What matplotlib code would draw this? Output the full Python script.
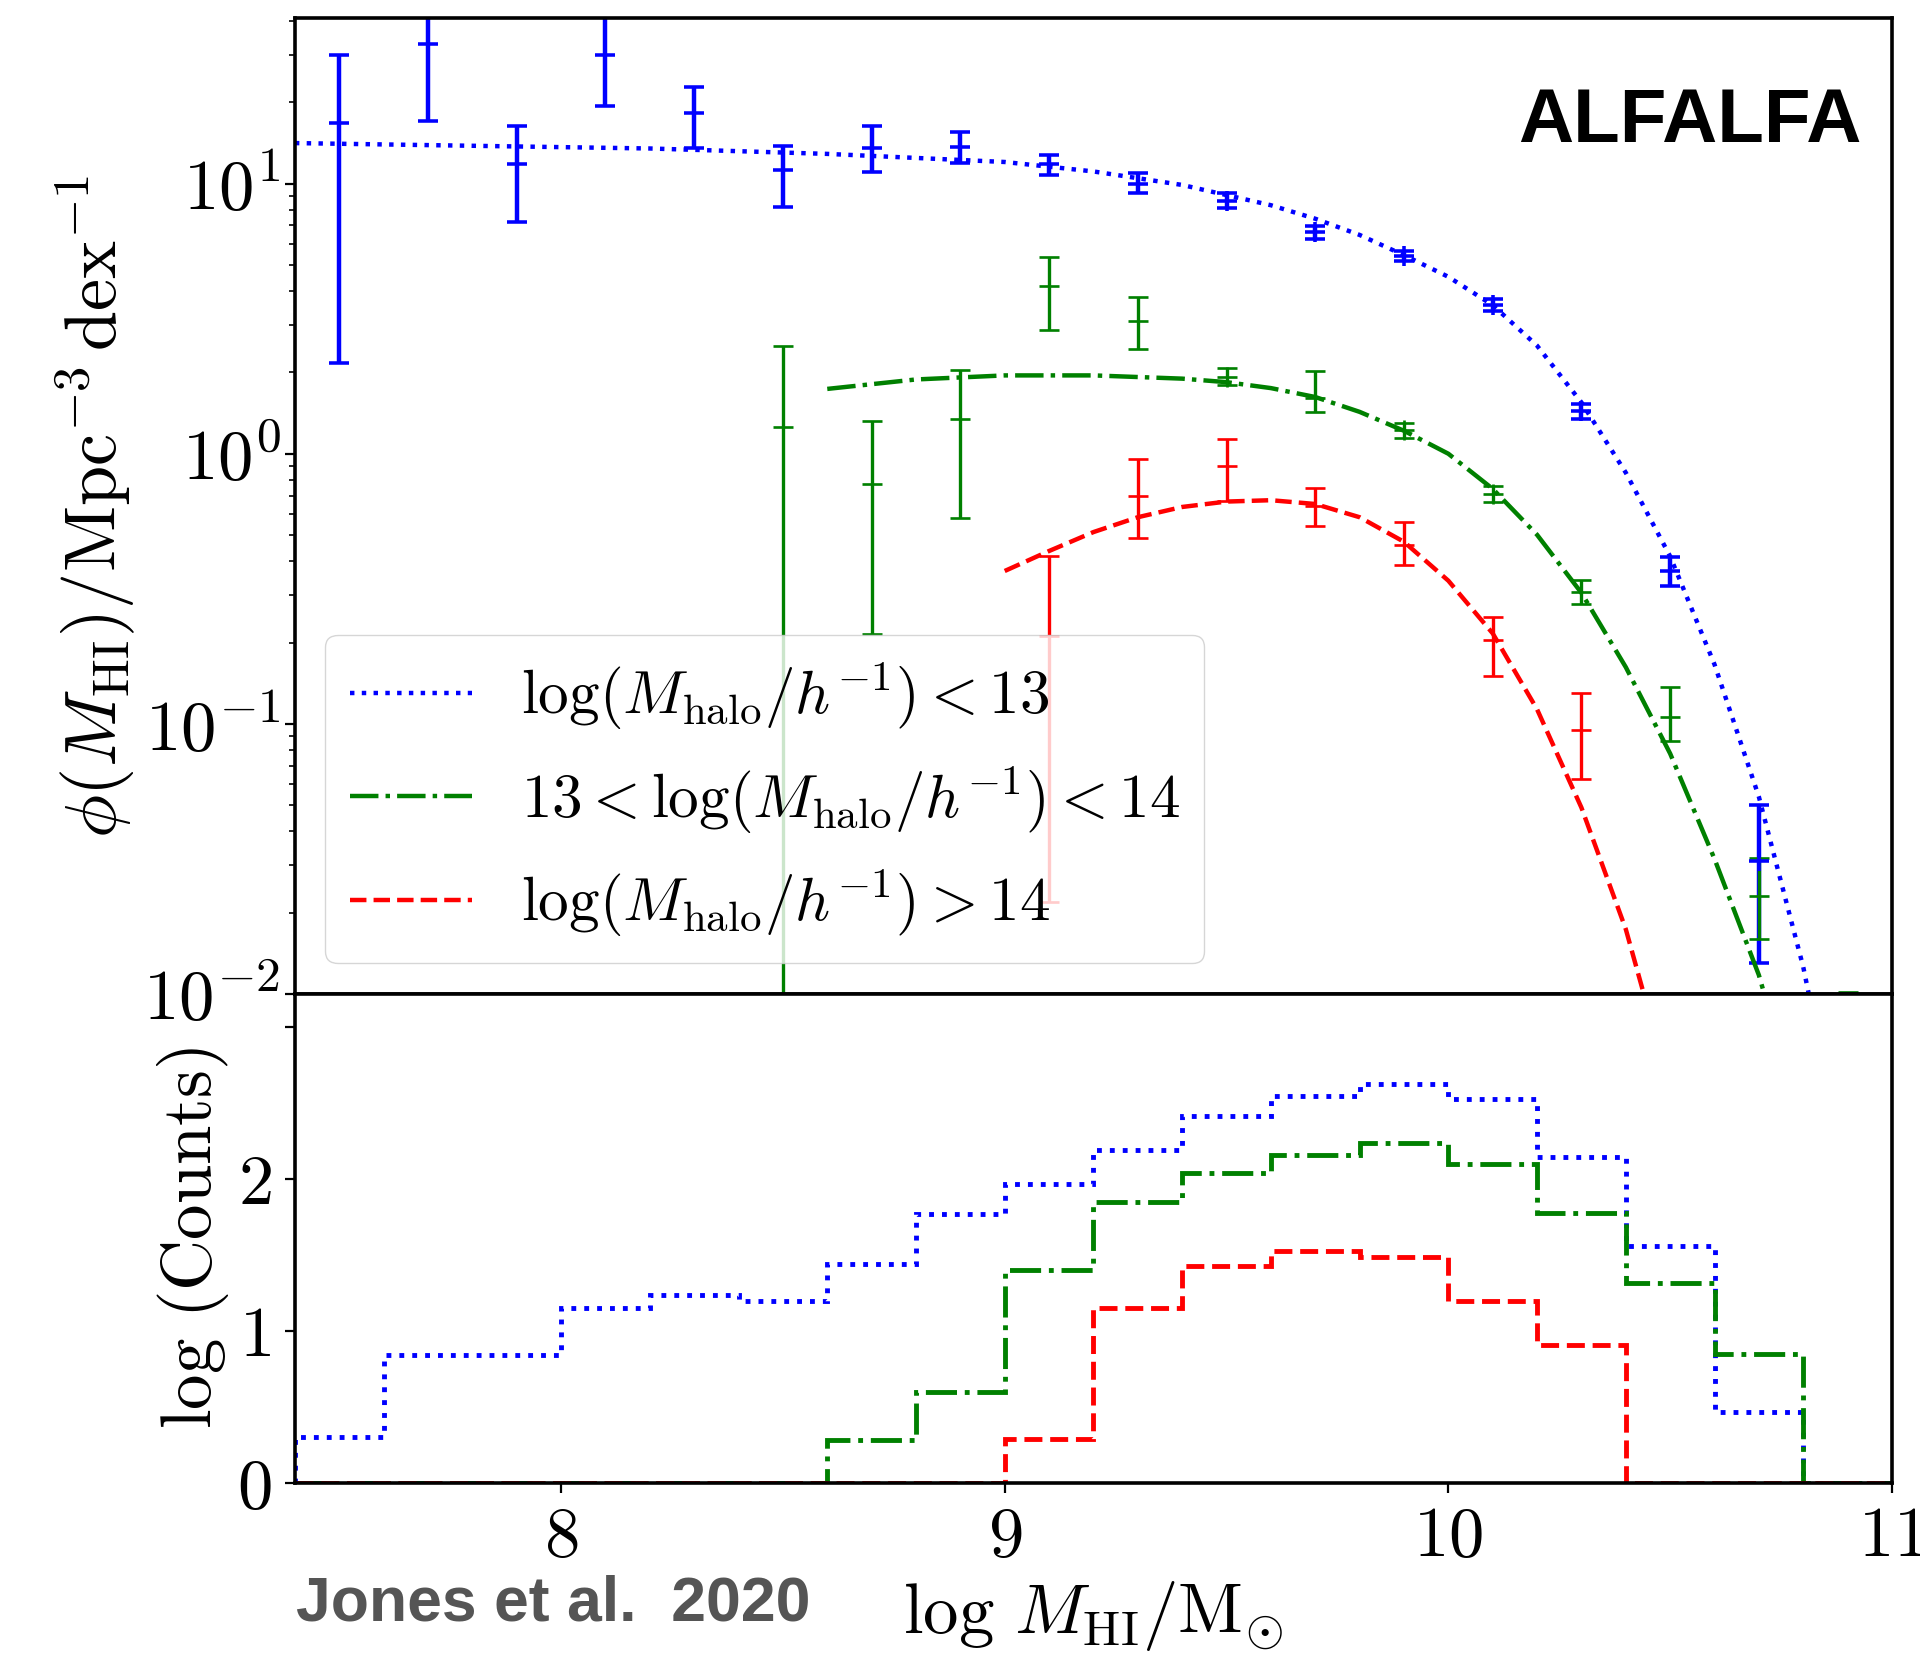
import numpy as np
import matplotlib
matplotlib.use('Agg')
import matplotlib.pyplot as plt

plt.rcParams['mathtext.fontset'] = 'cm'
plt.rcParams['font.family'] = 'serif'
plt.rcParams['font.serif'] = ['cmr10', 'DejaVu Serif']
plt.rcParams['axes.formatter.use_mathtext'] = True

# HI mass function points (phi, upper and lower bound) per halo mass bin
x_low = [7.5, 7.7, 7.9, 8.1, 8.3, 8.5, 8.7, 8.9, 9.1, 9.3, 9.5, 9.7, 9.9, 10.1, 10.3, 10.5, 10.7]
phi_low = [16.7, 33, 11.8, 29.9, 18.3, 11.2, 13.5, 13.7, 11.8, 10.0, 8.65, 6.6, 5.4, 3.56, 1.44, 0.368, 0.031]
phi_low_up = [30, 60, 16.3, 48, 22.8, 13.8, 16.3, 15.5, 12.8, 10.9, 9.2, 6.95, 5.63, 3.75, 1.53, 0.416, 0.050]
phi_low_dn = [2.16, 17, 7.2, 19.3, 13.5, 8.2, 11.0, 11.9, 10.8, 9.2, 8.1, 6.25, 5.19, 3.38, 1.35, 0.325, 0.013]

x_mid = [8.5, 8.7, 8.9, 9.1, 9.3, 9.5, 9.7, 9.9, 10.1, 10.3, 10.5, 10.7, 10.9]
phi_mid = [1.26, 0.77, 1.34, 4.17, 3.11, 1.93, 1.61, 1.22, 0.71, 0.308, 0.106, 0.023, 0.005]
phi_mid_up = [2.5, 1.32, 2.05, 5.35, 3.8, 2.08, 2.03, 1.30, 0.76, 0.342, 0.137, 0.032, 0.0102]
phi_mid_dn = [0.0001, 0.216, 0.58, 2.87, 2.45, 1.79, 1.43, 1.14, 0.66, 0.277, 0.0865, 0.016, 0.001]

x_high = [9.1, 9.3, 9.5, 9.7, 9.9, 10.1, 10.3]
phi_high = [0.212, 0.695, 0.90, 0.638, 0.458, 0.205, 0.0948]
phi_high_up = [0.417, 0.96, 1.13, 0.747, 0.558, 0.248, 0.13]
phi_high_dn = [0.022, 0.488, 0.667, 0.54, 0.387, 0.15, 0.0625]

fit_x_low = [7.4, 7.8, 8.2, 8.6, 9.0, 9.2, 9.4, 9.6, 9.7, 9.8, 9.9, 10.0, 10.1, 10.2, 10.3,
             10.4, 10.5, 10.6, 10.7, 10.8, 10.9]
fit_low = [1.15, 1.14, 1.13, 1.11, 1.08, 1.045, 0.995, 0.92, 0.87, 0.81, 0.735, 0.655, 0.55, 0.40, 0.19,
           -0.07, -0.38, -0.78, -1.27, -1.90, -2.7]
fit_x_mid = [8.6, 8.8, 9.0, 9.2, 9.4, 9.5, 9.6, 9.7, 9.8, 9.9, 10.0, 10.1, 10.2, 10.3, 10.4,
             10.5, 10.6, 10.7, 10.8]
fit_mid = [0.24, 0.275, 0.29, 0.29, 0.278, 0.265, 0.243, 0.21, 0.155, 0.085, 0.0, -0.13, -0.30, -0.515, -0.79,
           -1.11, -1.50, -1.93, -2.5]
fit_x_high = [9.0, 9.1, 9.2, 9.3, 9.4, 9.5, 9.6, 9.7, 9.8, 9.9, 10.0, 10.1, 10.2, 10.3, 10.4, 10.5]
fit_high = [-0.434, -0.36, -0.29, -0.235, -0.197, -0.177, -0.172, -0.186, -0.235, -0.326, -0.47, -0.665,
            -0.946, -1.31, -1.76, -2.35]

# log(counts) histograms
bin_edges = [7.4, 7.6, 7.8, 8.0, 8.2, 8.4, 8.6, 8.8, 9.0, 9.2, 9.4, 9.6, 9.8, 10.0, 10.2, 10.4, 10.6, 10.8, 11.0]
counts_low = [0.30, 0.84, 0.84, 1.15, 1.24, 1.20, 1.44, 1.77, 1.97, 2.19, 2.42, 2.55, 2.63, 2.53, 2.15, 1.56, 0.47, 0.0]
counts_mid = [0, 0, 0, 0, 0, 0, 0.28, 0.60, 1.40, 1.85, 2.04, 2.16, 2.24, 2.10, 1.78, 1.32, 0.85, 0]
counts_high = [0, 0, 0, 0, 0, 0, 0, 0, 0.29, 1.15, 1.43, 1.53, 1.49, 1.20, 0.91, 0, 0, 0]

labels = [r'$\log(M_{\rm halo}/h^{-1}) < 13$',
          r'$13 < \log(M_{\rm halo}/h^{-1}) < 14$',
          r'$\log(M_{\rm halo}/h^{-1}) > 14$']
colors = ['blue', 'green', 'red']
styles = [':', '-.', '--']

fs = 51
fig = plt.figure(figsize=(19.2, 16.57), dpi=100)
ax1 = fig.add_axes([0.1536, 0.4001, 0.8318, 0.589])
ax2 = fig.add_axes([0.1536, 0.105, 0.8318, 0.2951], sharex=ax1)

points = [(x_low, phi_low, phi_low_up, phi_low_dn, 3.2),
          (x_mid, phi_mid, phi_mid_up, phi_mid_dn, 2.4),
          (x_high, phi_high, phi_high_up, phi_high_dn, 2.4)]
for (x, y, up, dn, lw), c in zip(points, colors):
    y = np.array(y)
    err = [y - np.array(dn), np.array(up) - y]
    ax1.errorbar(x, y, yerr=err, fmt='+', color=c, ms=14, mew=lw * 0.8,
                 elinewidth=lw, capsize=7, capthick=lw * 0.8)

fits = [(fit_x_low, fit_low), (fit_x_mid, fit_mid), (fit_x_high, fit_high)]
for (fx, fy), c, ls, lab in zip(fits, colors, styles, labels):
    ax1.plot(fx, 10 ** np.array(fy), color=c, ls=ls, lw=3.2, label=lab)

ax1.set_yscale('log')
ax1.set_ylim(0.01, 41)
ax1.set_xlim(7.4, 11)
ax1.set_ylabel(r'$\phi(M_{\rm HI})/{\rm Mpc}^{-3}\,{\rm dex}^{-1}$', fontsize=fs + 1)
ax1.tick_params(axis='x', bottom=False, labelbottom=False)
ax1.tick_params(axis='y', which='major', direction='out', length=7, width=1.6, labelsize=fs)
ax1.tick_params(axis='y', which='minor', direction='out', length=4, width=1.2)
ax1.legend(loc='lower left', fontsize=44, handlelength=2.0)
ax1.text(0.981, 0.893, 'ALFALFA', transform=ax1.transAxes, ha='right', va='center',
         fontsize=55, fontweight='bold', family='Liberation Sans')

for vals, c, ls in zip([counts_low, counts_mid, counts_high], colors, styles):
    ax2.stairs(vals, bin_edges, color=c, ls=ls, lw=3.5, baseline=0)

ax2.set_ylim(0, 3.22)
ax2.set_yticks([0, 1, 2, 3])
ax2.set_yticklabels(['$0$', '$1$', '$2$', ''])
ax2.set_xticks([8, 9, 10, 11])
ax2.set_xticklabels(['$8$', '$9$', '$10$', '$11$'])
ax2.tick_params(direction='out', length=7, width=1.6, labelsize=fs, pad=10)
ax2.set_ylabel(r'$\log\,({\rm Counts})$', fontsize=fs)
ax2.set_xlabel(r'$\log\,M_{\rm HI}/{\rm M}_{\odot}$', fontsize=fs, labelpad=6)

for ax in (ax1, ax2):
    for s in ax.spines.values():
        s.set_linewidth(2.6)

fig.text(0.154, 0.032, 'Jones et al.  2020', fontsize=45, fontweight='bold',
         family='Liberation Sans', color='#555555', va='center')

fig.savefig('out.png', dpi=100)
